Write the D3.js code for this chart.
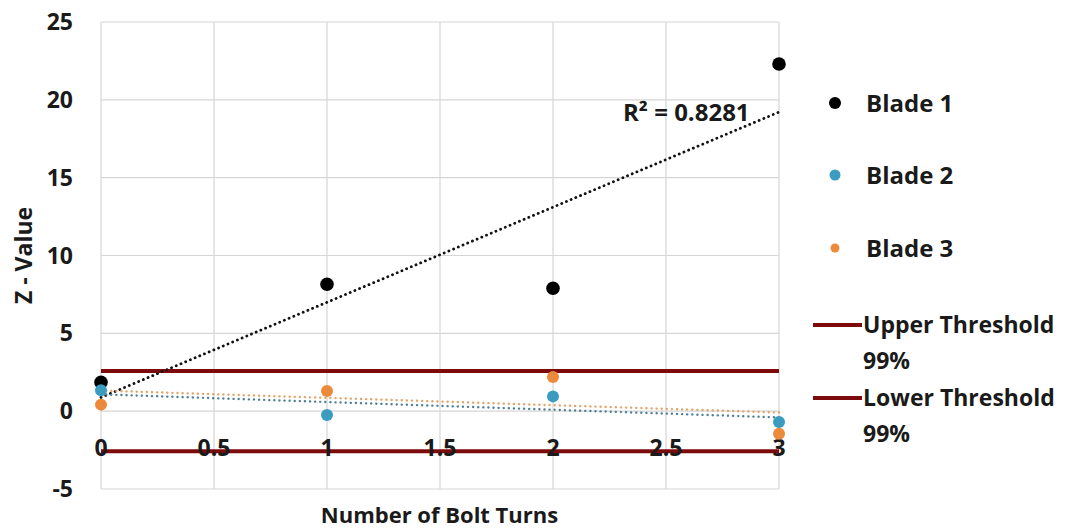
<!DOCTYPE html>
<html>
<head>
<meta charset="utf-8">
<script src="https://cdn.jsdelivr.net/npm/d3@7"></script>
<style>
  body { margin: 0; background: #fff; }
  text { font-family: "Open Sans", Lato, sans-serif; font-weight: 700; fill: #1a1a1a; }
</style>
</head>
<body>
<svg width="1071" height="531"></svg>
<script>
const turns = [0, 1, 2, 3];
const blade1 = [1.85, 8.15, 7.9, 22.3];
const blade2 = [1.35, -0.25, 0.95, -0.7];
const blade3 = [0.42, 1.3, 2.2, -1.45];
const seriesNames = ["Blade 1", "Blade 2", "Blade 3"];
const seriesColours = ["#000000", "#3b9cc0", "#ec8a3c"];
const trendColours = ["#111111", "#4f7f93", "#e0a468"];
const thresholds = [2.576, -2.576];
const thresholdNames = ["Upper Threshold", "Lower Threshold"];
const xTicks = [0, 0.5, 1, 1.5, 2, 2.5, 3];
const yTicks = [-5, 0, 5, 10, 15, 20, 25];
const r2Label = "R² = 0.8281";

const svg = d3.select("svg");
const margin = { top: 22, right: 292, bottom: 42, left: 101 };
const width = +svg.attr("width") - margin.left - margin.right;
const height = +svg.attr("height") - margin.top - margin.bottom;

const x = d3.scaleLinear().domain([0, 3]).range([margin.left, margin.left + width]);
const y = d3.scaleLinear().domain([-5, 25]).range([margin.top + height, margin.top]);

// grid
svg.append("g").selectAll("line")
    .data(yTicks).join("line")
    .attr("x1", x(0)).attr("x2", x(3))
    .attr("y1", d => y(d)).attr("y2", d => y(d))
    .attr("stroke", "#d6d6d6").attr("stroke-width", 1.2);
svg.append("g").selectAll("line")
    .data(xTicks).join("line")
    .attr("x1", d => x(d)).attr("x2", d => x(d))
    .attr("y1", y(25)).attr("y2", y(-5))
    .attr("stroke", "#d6d6d6").attr("stroke-width", 1.2);

// y tick labels
svg.append("g").selectAll("text")
    .data(yTicks).join("text")
    .attr("x", 73).attr("y", d => y(d) + 8)
    .attr("text-anchor", "end")
    .attr("font-size", 23)
    .text(d => d);

// thresholds
svg.append("g").selectAll("line")
    .data(thresholds).join("line")
    .attr("x1", x(0)).attr("x2", x(3))
    .attr("y1", d => y(d)).attr("y2", d => y(d))
    .attr("stroke", "#7d0b0b").attr("stroke-width", 4);

// x tick labels (sit on the lower threshold like the original)
svg.append("g").selectAll("text")
    .data(xTicks).join("text")
    .attr("x", d => x(d)).attr("y", 456)
    .attr("text-anchor", "middle")
    .attr("font-size", 23)
    .text(d => d);

// linear trend lines
const allSeries = [blade1, blade2, blade3];
function fit(vals) {
    const mx = d3.mean(turns), my = d3.mean(vals);
    const sxy = d3.sum(turns, (t, i) => (t - mx) * (vals[i] - my));
    const sxx = d3.sum(turns, t => (t - mx) ** 2);
    const b = sxy / sxx;
    return { a: my - b * mx, b: b };
}
allSeries.forEach((vals, i) => {
    const f = fit(vals);
    svg.append("line")
        .attr("x1", x(0)).attr("y1", y(f.a))
        .attr("x2", x(3)).attr("y2", y(f.a + f.b * 3))
        .attr("stroke", trendColours[i])
        .attr("stroke-width", i === 0 ? 2.8 : 2.4)
        .attr("stroke-linecap", "round")
        .attr("stroke-dasharray", "0.1,5");
});

// points: blade 2 sits over blade 1 at x=0
[0, 2, 1].forEach(i => {
    svg.append("g").selectAll("circle")
        .data(allSeries[i]).join("circle")
        .attr("cx", (d, j) => x(turns[j]))
        .attr("cy", d => y(d))
        .attr("r", i === 0 ? 6.8 : 6)
        .attr("fill", seriesColours[i]);
});

svg.append("text")
    .attr("x", 623).attr("y", 121)
    .attr("font-size", 24)
    .text(r2Label);

// axis titles
svg.append("text")
    .attr("x", (312 + 567) / 2).attr("y", 523)
    .attr("text-anchor", "middle")
    .attr("font-size", 22)
    .text("Number of Bolt Turns");
svg.append("text")
    .attr("transform", "translate(32," + y(10) + ") rotate(-90)")
    .attr("text-anchor", "middle")
    .attr("font-size", 23)
    .text("Z - Value");

// legend
const legend = svg.append("g");
const legendY = [103, 175, 248];
const legendR = [6, 5.5, 4.5];
seriesNames.forEach((name, i) => {
    legend.append("circle")
        .attr("cx", 835).attr("cy", legendY[i])
        .attr("r", legendR[i]).attr("fill", seriesColours[i]);
    legend.append("text")
        .attr("x", 866).attr("y", legendY[i] + 8.5)
        .attr("font-size", 24)
        .text(name);
});
const thrY = [325, 398];
thresholdNames.forEach((name, i) => {
    legend.append("line")
        .attr("x1", 813).attr("x2", 862)
        .attr("y1", thrY[i]).attr("y2", thrY[i])
        .attr("stroke", "#7d0b0b").attr("stroke-width", 4);
    legend.append("text")
        .attr("x", 863).attr("y", thrY[i] + 8)
        .attr("font-size", 23)
        .text(name);
    legend.append("text")
        .attr("x", 863).attr("y", thrY[i] + 44)
        .attr("font-size", 23)
        .text("99%");
});
</script>
</body>
</html>
